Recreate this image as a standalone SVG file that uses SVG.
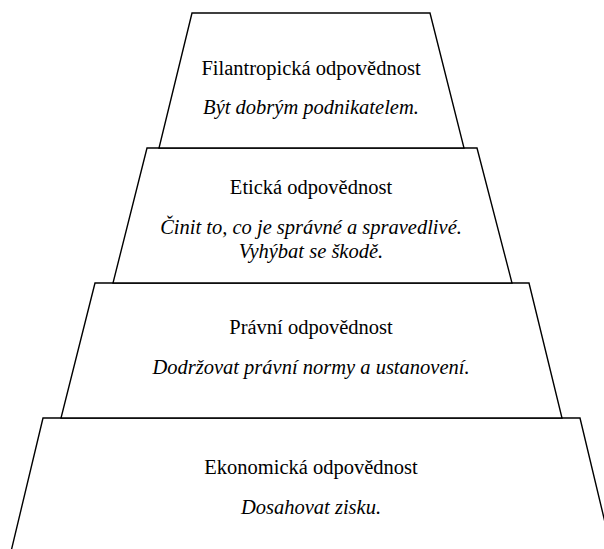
<svg xmlns="http://www.w3.org/2000/svg" width="604" height="549" viewBox="0 0 604 549">
<style>
.tier{fill:#fff;stroke:#000;stroke-width:1.4;stroke-linejoin:miter}
.t{font-family:'Liberation Serif','Times New Roman',Times,'DejaVu Serif',serif;font-size:20.5px;fill:#000;text-anchor:middle}
.i{font-style:italic}
</style>
<rect width="604" height="549" fill="#fff"/>
<g id="ekonomicka">
<polygon class="tier" points="43,418 580,418 614,560 9,560"/>
<text class="t" x="311" y="474" font-family="Liberation Serif, serif">Ekonomická odpovědnost</text>
<text class="t i" x="311" y="514" font-family="Liberation Serif, serif">Dosahovat zisku.</text>
</g>
<g id="pravni">
<polygon class="tier" points="95,283 529,283 562,418 61,418"/>
<text class="t" x="311" y="334" font-family="Liberation Serif, serif">Právní odpovědnost</text>
<text class="t i" x="311" y="374" font-family="Liberation Serif, serif">Dodržovat právní normy a ustanovení.</text>
</g>
<g id="eticka">
<polygon class="tier" points="147,148 477,148 512,283 113,283"/>
<text class="t" x="311" y="194" font-family="Liberation Serif, serif">Etická odpovědnost</text>
<text class="t i" x="311" y="234" font-family="Liberation Serif, serif">Činit to, co je správné a spravedlivé.</text>
<text class="t i" x="311" y="258" font-family="Liberation Serif, serif">Vyhýbat se škodě.</text>
</g>
<g id="filantropicka">
<polygon class="tier" points="192,13 430,13 464,148 159,148"/>
<text class="t" x="311" y="75" font-family="Liberation Serif, serif">Filantropická odpovědnost</text>
<text class="t i" x="311" y="114" font-family="Liberation Serif, serif">Být dobrým podnikatelem.</text>
</g>
<g id="connectors"/>
</svg>
